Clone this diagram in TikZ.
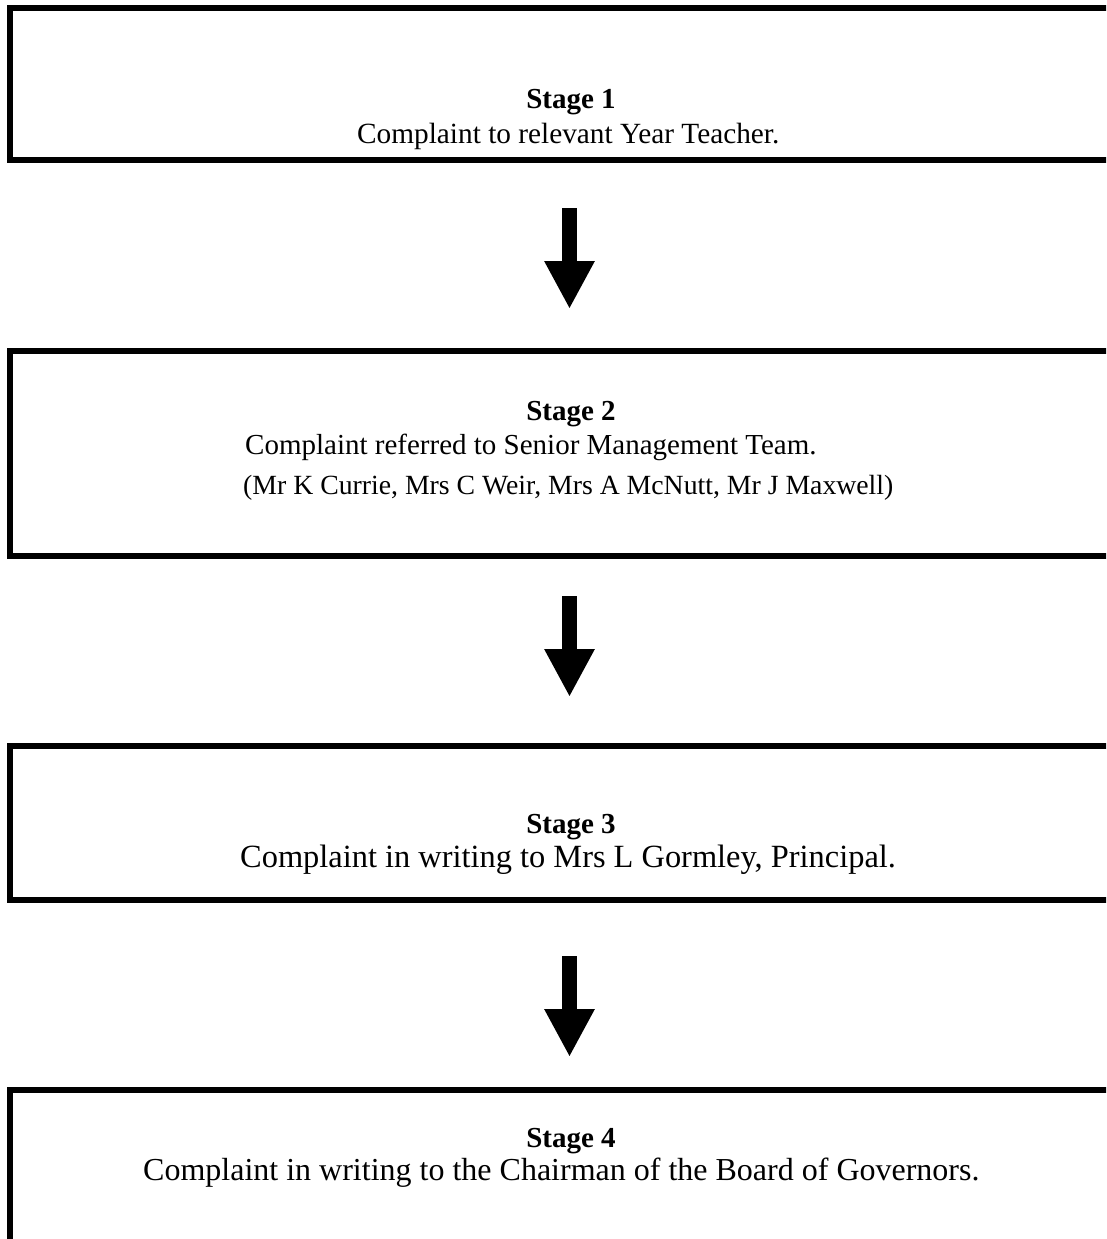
\documentclass[tikz,border=0pt]{standalone}
\usepackage{fontspec}
\setmainfont{Liberation Serif}
\usetikzlibrary{arrows.meta}
\begin{document}
\begin{tikzpicture}[x=1pt,y=1pt,
  stagebox/.style={draw, line width=6pt, minimum width=1119pt, inner sep=0pt},
  titletext/.style={anchor=base, font=\fontsize{29}{35}\selectfont\bfseries, inner sep=0pt},
  desctext/.style={anchor=base west, font=\fontsize{29}{35}\selectfont, inner sep=0pt},
  bigarrow/.style={line width=15pt, -{Triangle[width=47pt,length=48pt]}}
]
\useasboundingbox (0,0) rectangle (1106,-1239);
\clip (0,0) rectangle (1106,-1239);
% boxes
\node[stagebox, minimum height=152pt] (b1) at (569.5,-84) {};
\node[stagebox, minimum height=205pt] (b2) at (569.5,-453.5) {};
\node[stagebox, minimum height=154pt] (b3) at (569.5,-823) {};
\node[stagebox, minimum height=300pt] (b4) at (569.5,-1240) {};
% texts
\node[titletext] (s1) at (571,-108) {Stage 1};
\node[desctext, font=\fontsize{29.3}{35}\selectfont] (d1) at (357,-143) {Complaint to relevant Year Teacher.};
\node[titletext] (s2) at (571,-420) {Stage 2};
\node[desctext] (d2) at (245,-454) {Complaint referred to Senior Management Team.};
\node[desctext, font=\fontsize{27.75}{33}\selectfont] (d2b) at (243,-494) {(Mr K Currie, Mrs C Weir, Mrs A McNutt, Mr J Maxwell)};
\node[titletext] (s3) at (571,-833) {Stage 3};
\node[desctext, font=\fontsize{32.4}{38}\selectfont] (d3) at (240,-867) {Complaint in writing to Mrs L Gormley, Principal.};
\node[titletext] (s4) at (571,-1147) {Stage 4};
\node[desctext, font=\fontsize{32}{38}\selectfont] (d4) at (143,-1180) {Complaint in writing to the Chairman of the Board of Governors.};
% arrows
\draw[bigarrow, shorten <=45pt, shorten >=39pt] (b1.south) -- (b2.north);
\draw[bigarrow, shorten <=37pt, shorten >=46pt] (b2.south) -- (b3.north);
\draw[bigarrow, shorten <=53pt, shorten >=30pt] (b3.south) -- (b4.north);
\end{tikzpicture}
\end{document}
